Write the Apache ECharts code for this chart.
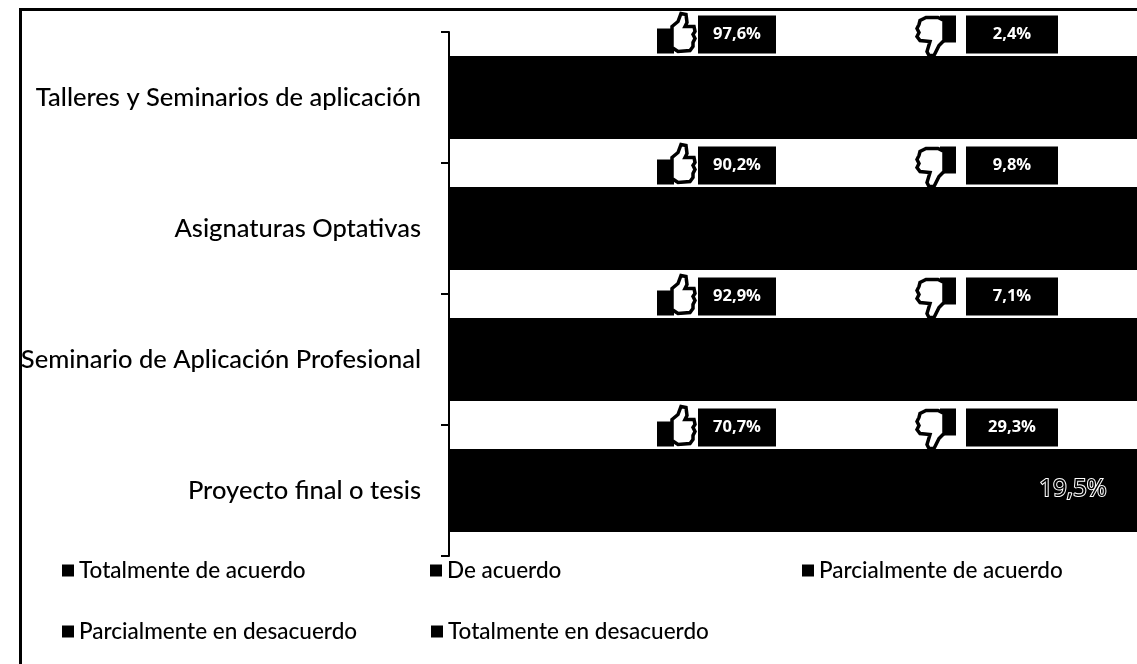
<!DOCTYPE html>
<html>

<head>
    <meta charset="UTF-8">
    <script src="https://cdn.jsdelivr.net/npm/echarts@6/dist/echarts.min.js"></script>
    <style>
        html, body { margin: 0; padding: 0; background: #fff; }
    </style>
</head>

<body>
    <div id="chart" style="width: 1137px;height:664px"></div>
    <script>
    var categorias = ['Talleres y Seminarios de aplicación', 'Asignaturas Optativas', 'Seminario de Aplicación Profesional', 'Proyecto final o tesis'];
    var nombres = ['Totalmente de acuerdo', 'De acuerdo', 'Parcialmente de acuerdo', 'Parcialmente en desacuerdo', 'Totalmente en desacuerdo'];
    var totalAcuerdo = [61.9, 46.3, 50.0, 34.1];
    var deAcuerdo = [26.2, 29.3, 28.6, 24.4];
    var parcialAcuerdo = [9.5, 14.6, 14.3, 12.2];
    var parcialDesacuerdo = [0, 7.3, 4.8, 9.8];
    var totalDesacuerdo = [2.4, 2.5, 2.3, 19.5];
    var aFavor = ['97,6%', '90,2%', '92,9%', '70,7%'];
    var enContra = ['2,4%', '9,8%', '7,1%', '29,3%'];

    var fuente = 'Lato';
    // posicion de cada entrada de la leyenda
    var posLeyenda = [[62, 559], [430, 559], [802, 559], [62, 620], [431, 620]];

    var valores = [totalAcuerdo, deAcuerdo, parcialAcuerdo, parcialDesacuerdo, totalDesacuerdo];
    var series = nombres.map(function (n, i) {
        return {
            name: n,
            type: 'bar',
            stack: 'total',
            barWidth: 83,
            // fondo negro para que no se vea la union entre segmentos
            showBackground: i === 0,
            backgroundStyle: { color: '#000', opacity: 1 },
            itemStyle: { color: '#000' },
            data: valores[i]
        };
    });
    // solo la etiqueta 19,5% se alcanza a ver en el original
    series[4].data = totalDesacuerdo.map(function (v, i) {
        if (i !== 3) return v;
        return {
            value: v,
            label: {
                show: true,
                position: 'inside',
                offset: [3, -1],
                formatter: '19,5%',
                fontFamily: 'Open Sans',
                fontSize: 24,
                color: '#000',
                textBorderColor: '#fff',
                textBorderWidth: 2
            }
        };
    });

    var option = {
        animation: false,
        grid: { left: 449, right: 0, top: 32, height: 524 },
        legend: posLeyenda.map(function (p, i) {
            return {
                data: [nombres[i]],
                left: p[0],
                top: p[1],
                padding: 0,
                icon: 'rect',
                itemWidth: 12,
                itemHeight: 12,
                itemGap: 6,
                selectedMode: false,
                textStyle: { fontFamily: fuente, fontSize: 22.5, fontWeight: 500, color: '#000' }
            };
        }),
        xAxis: { type: 'value', min: 0, max: 100, show: false },
        yAxis: {
            type: 'category',
            inverse: true,
            data: categorias,
            axisLine: { lineStyle: { color: '#000', width: 2 } },
            axisTick: { show: true, length: 8, lineStyle: { color: '#000', width: 2 } },
            axisLabel: { margin: 28, fontFamily: fuente, fontSize: 25.5, fontWeight: 500, color: '#000' }
        },
        series: series
    };

    var myChart = echarts.init(document.getElementById('chart'));
    myChart.setOption(option);

    // pulgares, dibujados en coordenadas locales
    var manoArriba = [[14, 13], [20, 8], [23, 0], [28, 1], [29, 9], [27, 13], [36, 13], [37, 18], [35, 21], [37, 25], [35, 29], [35, 33], [32, 37], [20, 38], [14, 34]];
    var manoAbajo = [[30, 25], [25, 30], [20, 40], [15, 40], [13, 36], [16, 26], [6, 25], [3, 21], [5, 17], [3, 13], [5, 9], [6, 5], [12, 2], [24, 2], [30, 5]];

    function caja(x, y, w, h, texto) {
        return {
            type: 'rect',
            shape: { x: x, y: y, width: w, height: h },
            style: { fill: '#000' },
            textContent: {
                style: { text: texto, fill: '#fff', fontFamily: 'Open Sans', fontWeight: 700, fontSize: 16.5 }
            },
            textConfig: { position: 'inside' }
        };
    }

    var graficos = [
        { type: 'line', shape: { x1: 20.5, y1: 9.5, x2: 1137, y2: 9.5 }, style: { stroke: '#000', lineWidth: 3 } },
        { type: 'line', shape: { x1: 20.5, y1: 8, x2: 20.5, y2: 664 }, style: { stroke: '#000', lineWidth: 3 } }
    ];
    categorias.forEach(function (c, i) {
        var cy = myChart.convertToPixel({ yAxisIndex: 0 }, i);
        var y = cy - 63;
        graficos.push(caja(698, y - 19, 78, 38, aFavor[i]));
        graficos.push(caja(966, y - 19, 92, 38, enContra[i]));
        graficos.push({ type: 'rect', shape: { x: 657, y: y - 6, width: 17, height: 25 }, style: { fill: '#000' } });
        graficos.push({
            type: 'polygon', x: 658, y: y - 21,
            shape: { points: manoArriba },
            style: { fill: '#fff', stroke: '#000', lineWidth: 3.5 }
        });
        graficos.push({ type: 'rect', shape: { x: 940, y: y - 19, width: 16, height: 27 }, style: { fill: '#000' } });
        graficos.push({
            type: 'polygon', x: 914, y: y - 19,
            shape: { points: manoAbajo },
            style: { fill: '#fff', stroke: '#000', lineWidth: 3.5 }
        });
    });
    myChart.setOption({ graphic: { elements: graficos } });
    </script>
</body>

</html>
